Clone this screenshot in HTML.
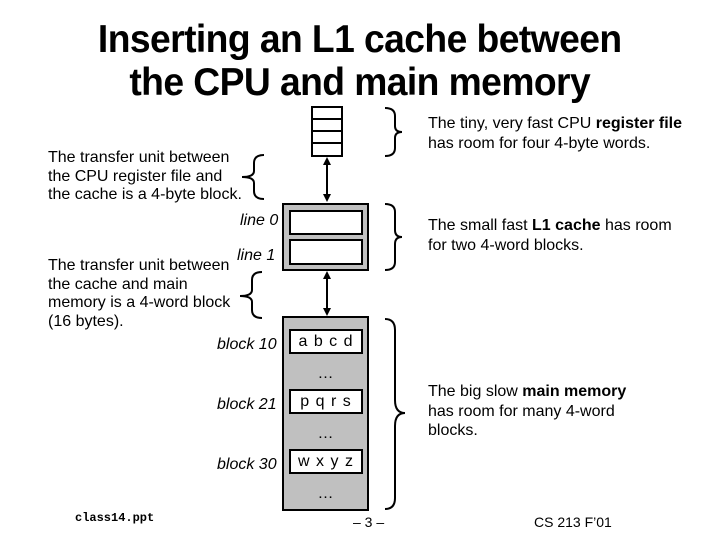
<!DOCTYPE html>
<html><head><style>
body{margin:0;width:720px;height:540px;background:#fff;position:relative;overflow:hidden;font-family:"Liberation Sans",sans-serif;}
.t{position:absolute;font-size:16px;line-height:19px;color:#000;white-space:nowrap}
.i{font-style:italic}
</style></head><body>
<div class="t" style="left:0;width:720px;top:18px;text-align:center;font-size:39px;line-height:43px;font-weight:bold;letter-spacing:-0.6px;transform:scaleX(0.955);transform-origin:354px 0">Inserting an L1 cache between<br>the CPU and main memory</div>
<svg width="720" height="540" style="position:absolute;left:0;top:0" fill="none" stroke="#000" stroke-width="2">
<rect x="312" y="107" width="30" height="49" fill="#fff"/>
<line x1="312" y1="119" x2="342" y2="119"/><line x1="312" y1="131" x2="342" y2="131"/><line x1="312" y1="143" x2="342" y2="143"/>
<line x1="327" y1="163" x2="327" y2="196"/>
<polygon points="327,157 323,165 331,165" fill="#000" stroke="none"/>
<polygon points="327,202 323,194 331,194" fill="#000" stroke="none"/>
<rect x="283" y="204" width="85" height="66" fill="#c0c0c0"/>
<rect x="290" y="211" width="72" height="23" fill="#fff"/>
<rect x="290" y="240" width="72" height="24" fill="#fff"/>
<line x1="327" y1="277" x2="327" y2="310"/>
<polygon points="327,271 323,279 331,279" fill="#000" stroke="none"/>
<polygon points="327,316 323,308 331,308" fill="#000" stroke="none"/>
<rect x="283" y="317" width="85" height="193" fill="#c0c0c0"/>
<rect x="290" y="330" width="72" height="23" fill="#fff"/>
<rect x="290" y="390" width="72" height="23" fill="#fff"/>
<rect x="290" y="450" width="72" height="23" fill="#fff"/>
<g stroke-width="2">
<path d="M385,108 Q395,108 395,116 L395,126 Q395,132 402,132 Q395,132 395,138 L395,148 Q395,156 385,156"/>
<path d="M264,155 Q254,155 254,163 L254,171 Q254,177 242,177 Q254,177 254,183 L254,191 Q254,199 264,199"/>
<path d="M385,204 Q395,204 395,212 L395,230 Q395,237 402,237 Q395,237 395,244 L395,262 Q395,270 385,270"/>
<path d="M262,272 Q252,272 252,280 L252,290 Q252,296 240,296 Q252,296 252,302 L252,310 Q252,318 262,318"/>
<path d="M385,319 Q395,319 395,330 L395,400 Q395,413 405,413 Q395,413 395,426 L395,498 Q395,509 385,509"/>
</g>
</svg>
<div class="t" style="left:428px;top:114px;line-height:20px">The tiny, very fast CPU <b>register file</b><br>has room for four 4-byte words.</div>
<div class="t" style="left:48px;top:149px;line-height:18.5px">The transfer unit between<br>the CPU register file and<br>the cache is a 4-byte block.</div>
<div class="t i" style="left:240px;top:211px">line 0</div>
<div class="t i" style="left:237px;top:246px">line 1</div>
<div class="t" style="left:428px;top:216px;line-height:20px">The small fast <b>L1 cache</b> has room<br>for two  4-word blocks.</div>
<div class="t" style="left:48px;top:257px;line-height:18.5px">The transfer unit between<br>the cache and main<br>memory is a 4-word block<br>(16 bytes).</div>
<div class="t i" style="left:217px;top:335px">block 10</div>
<div class="t i" style="left:217px;top:395px">block 21</div>
<div class="t i" style="left:217px;top:455px">block 30</div>
<div class="t" style="left:290px;width:72px;text-align:center;top:332px;letter-spacing:1px">a b c d</div>
<div class="t" style="left:290px;width:72px;text-align:center;top:392px;letter-spacing:1px">p q r s</div>
<div class="t" style="left:290px;width:72px;text-align:center;top:452px;letter-spacing:1px">w x y z</div>
<div class="t" style="left:283px;width:85px;text-align:center;top:364px">…</div>
<div class="t" style="left:283px;width:85px;text-align:center;top:424px">…</div>
<div class="t" style="left:283px;width:85px;text-align:center;top:484px">…</div>
<div class="t" style="left:428px;top:382px;line-height:19.5px">The big slow <b>main memory</b><br>has room for many 4-word<br>blocks.</div>
<div class="t" style="left:75px;top:509px;font-family:'Liberation Mono',monospace;font-size:12px;font-weight:bold">class14.ppt</div>
<div class="t" style="left:353px;top:513px;font-size:14px">– 3 –</div>
<div class="t" style="left:534px;top:513px;font-size:14px">CS 213 F’01</div>
</body></html>
